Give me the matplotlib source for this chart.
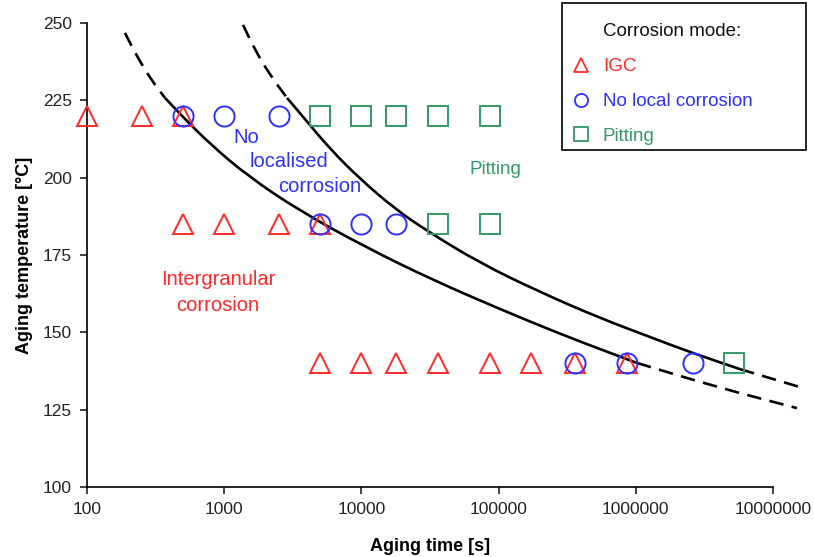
import numpy as np
import matplotlib.pyplot as plt
from matplotlib.lines import Line2D
from matplotlib.patches import PathPatch, Rectangle
from matplotlib.path import Path
from matplotlib.ticker import FixedLocator, NullLocator

plt.rcParams['font.family'] = ['Liberation Sans', 'DejaVu Sans']

# aging tests: time [s] / temperature [C] for each corrosion mode
igc_time = [100, 250, 500, 500, 1000, 2500, 5000,
            5000, 10000, 18000, 36000, 86400, 172800, 360000, 864000]
igc_temp = [220, 220, 220, 185, 185, 185, 185,
            140, 140, 140, 140, 140, 140, 140, 140]

nolocal_time = [500, 1000, 2500, 5000, 10000, 18000, 360000, 864000, 2592000]
nolocal_temp = [220, 220, 220, 185, 185, 185, 140, 140, 140]

pitting_time = [5000, 10000, 18000, 36000, 86400, 36000, 86400, 5184000]
pitting_temp = [220, 220, 220, 220, 220, 185, 185, 140]

# boundary IGC / no local corrosion (dashed where extrapolated)
low_time = [189, 231, 288, 370, 501, 788, 1491, 3569, 10985, 33250,
            102400, 280300, 682000, 1020000, 3910000, 14960000]
low_temp = [246.8, 239.3, 232.2, 225.8, 219.6, 210.9, 200.5, 189.2, 177.3,
            166.9, 157.5, 149.5, 143.0, 140.1, 132.3, 125.5]
low_solid = (3, 13)   # first and last index of the solid part

# boundary no local corrosion / pitting
up_time = [1371, 1677, 2157, 2869, 3815, 5903, 9770, 17580, 30070, 73170,
           200300, 548300, 1269000, 2483000, 5748000, 9510000, 15730000]
up_temp = [249.4, 241.3, 233.2, 225.8, 219.3, 209.3, 199.6, 189.9, 182.8,
           172.4, 163.0, 154.6, 148.5, 143.6, 138.1, 135.2, 132.3]
up_solid = (3, 14)

red = '#FF2A2A'
blue = '#2F2FFF'
green = '#339966'

fig = plt.figure(figsize=(8.14, 5.57), dpi=100)
ax = fig.add_axes([87/814, 1 - 487/557, (773 - 87)/814, (487 - 23)/557])
ax.set_xscale('log')
ax.set_xlim(100, 1e7)
ax.set_ylim(100, 250)


def smooth(t, T):
    # quadratic bezier through the midpoints, control points = read points
    lt = np.log10(t)
    mids = [(10 ** ((lt[i] + lt[i + 1]) / 2), (T[i] + T[i + 1]) / 2)
            for i in range(len(t) - 1)]
    verts = [(t[0], T[0]), mids[0]]
    codes = [Path.MOVETO, Path.LINETO]
    for i in range(1, len(t) - 1):
        verts += [(t[i], T[i]), mids[i]]
        codes += [Path.CURVE3, Path.CURVE3]
    verts.append((t[-1], T[-1]))
    codes.append(Path.LINETO)
    return Path(verts, codes)


def boundary(t, T, solid):
    a, b = solid
    parts = [(t[:a + 1], T[:a + 1], (0, (5.5, 3.2))),
             (t[a:b + 1], T[a:b + 1], '-'),
             (t[b:], T[b:], (0, (5.5, 3.2)))]
    for pt, pT, ls in parts:
        patch = PathPatch(smooth(pt, pT), fill=False, ec='black', lw=1.9,
                          ls=ls, clip_on=False, zorder=3, capstyle='butt')
        ax.add_patch(patch)


boundary(low_time, low_temp, low_solid)
boundary(up_time, up_temp, up_solid)

mk = dict(ls='none', ms=14.5, mew=1.4, mfc='none', clip_on=False, zorder=4)
ax.plot(igc_time, igc_temp, '^', mec=red, **mk)
ax.plot(nolocal_time, nolocal_temp, 'o', mec=blue, **mk)
ax.plot(pitting_time, pitting_temp, 's', mec=green, **mk)

# region labels
tfs = 14.5
ax.text(1159, 213.1, 'No', color=blue, fontsize=tfs, va='center', ha='left')
ax.text(1542, 205.1, 'localised', color=blue, fontsize=tfs, va='center', ha='left')
ax.text(2466, 197.0, 'corrosion', color=blue, fontsize=tfs, va='center', ha='left')
ax.text(94200, 202.8, 'Pitting', color=green, fontsize=13.5, va='center', ha='center')
ax.text(902, 162.9, 'Intergranular\ncorrosion', color=red, fontsize=tfs,
        va='center', ha='center', linespacing=1.45)

ax.xaxis.set_major_locator(FixedLocator([1e2, 1e3, 1e4, 1e5, 1e6, 1e7]))
ax.xaxis.set_minor_locator(NullLocator())
ax.set_xticklabels(['100', '1000', '10000', '100000', '1000000', '10000000'])
ax.set_yticks(np.arange(100, 251, 25))

for s in ['top', 'right']:
    ax.spines[s].set_visible(False)
for s in ['left', 'bottom']:
    ax.spines[s].set_linewidth(1.2)
ax.tick_params(direction='out', length=5, width=1.2, labelsize=12.5,
               colors='#222222', pad=6)

ax.set_xlabel('Aging time [s]', fontsize=13, fontweight='bold', labelpad=15)
ax.set_ylabel('Aging temperature [\u00b0C]', fontsize=13, fontweight='bold', labelpad=7)

# legend box with its heading
fig.add_artist(Rectangle((562/814, 1 - 150/557), 244/814, 147/557,
                         transform=fig.transFigure, fill=False,
                         ec='black', lw=1.2))
fig.text(603/814, 1 - 32/557, 'Corrosion mode:', fontsize=13.5,
         va='center', ha='left', color='#111111')
handles = [
    Line2D([], [], ls='none', marker='^', ms=9.5, mew=1.3, mfc='none', mec=red),
    Line2D([], [], ls='none', marker='o', ms=9.5, mew=1.3, mfc='none', mec=blue),
    Line2D([], [], ls='none', marker='s', ms=9.5, mew=1.3, mfc='none', mec=green),
]
leg = fig.legend(handles, ['IGC', 'No local corrosion', 'Pitting'],
                 fontsize=13.5, loc='upper left',
                 bbox_to_anchor=(573/814, 1 - 58/557),
                 frameon=False, handlelength=0.9, handletextpad=0.7,
                 labelspacing=0.95, borderpad=0, borderaxespad=0)
for txt, c in zip(leg.get_texts(), [red, blue, green]):
    txt.set_color(c)

fig.savefig('out.png', dpi=100)
